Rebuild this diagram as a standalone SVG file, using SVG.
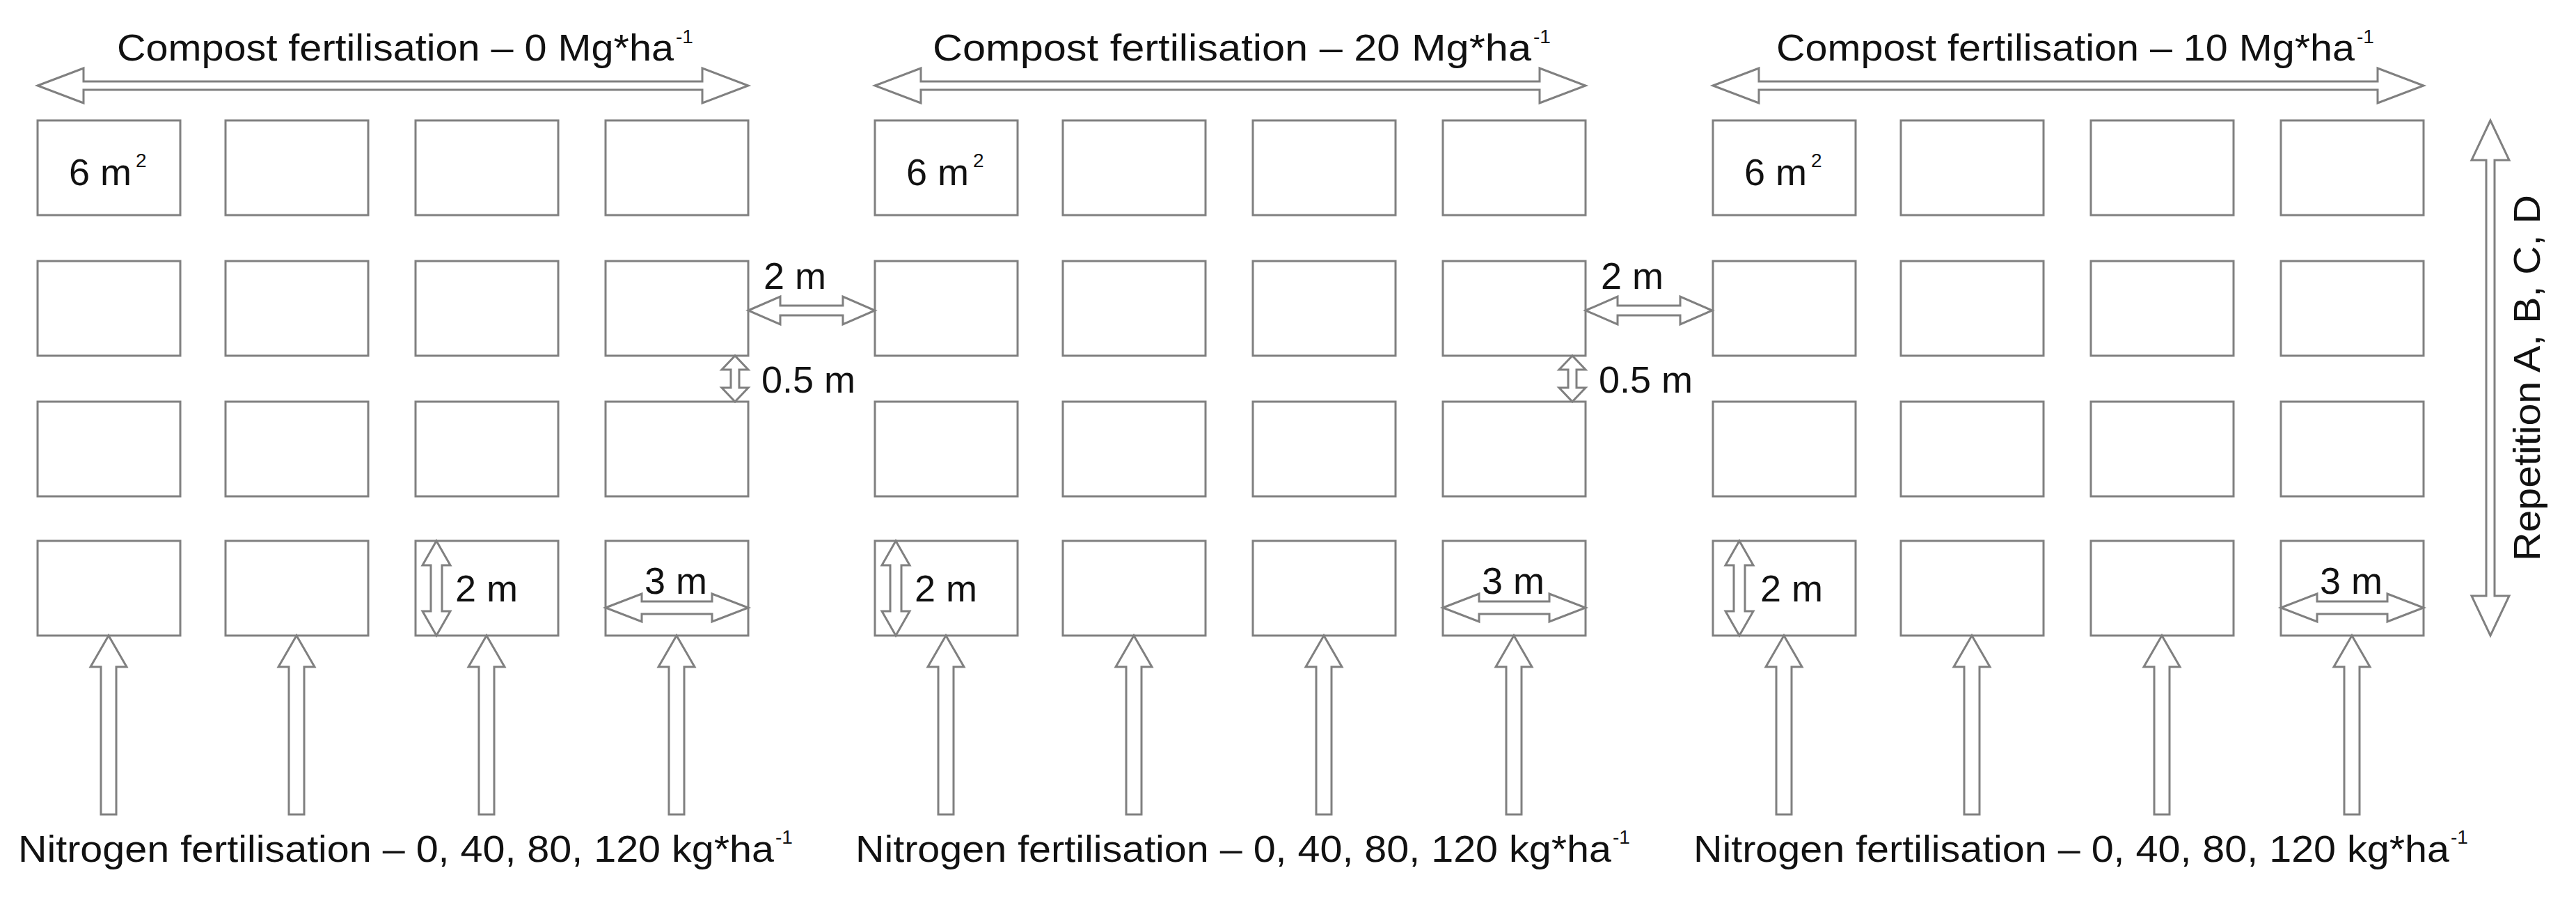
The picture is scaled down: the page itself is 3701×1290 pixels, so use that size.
<svg xmlns="http://www.w3.org/2000/svg" xmlns:xlink="http://www.w3.org/1999/xlink" width="3701" height="1290" viewBox="0 0 3701 1290">
<style>
.s{fill:#fff;stroke:#808080;stroke-width:3}
.t{font-family:"Liberation Sans",Arial,sans-serif;font-size:54px;fill:#111}
.sup{font-family:"Liberation Sans",Arial,sans-serif;font-size:28px;fill:#111}
</style>
<defs>
<rect id="box" class="s" width="205" height="136"/>
<polygon id="gap" class="s" points="0,0 46,-20 46,-7 136,-7 136,-20 182,0 136,20 136,7 46,7 46,20"/>
<polygon id="half" class="s" points="0,0 -19,20 -6,20 -6,46 -19,46 0,66 19,46 6,46 6,20 19,20"/>
<polygon id="w3" class="s" points="0,0 52,-20 52,-9 153,-9 153,-20 205,0 153,20 153,9 52,9 52,20"/>
<polygon id="h2" class="s" points="0,0 -20,35 -8,35 -8,101 -20,101 0,136 20,101 8,101 8,35 20,35"/>
<polygon id="comp" class="s" points="0,0 66,-25 66,-6 955,-6 955,-25 1021,0 955,25 955,6 66,6 66,25"/>
<polygon id="narr" class="s" points="0,0 26,45 11,45 11,257 -11,257 -11,45 -26,45"/>
</defs>
<g id="plots">
<g id="block1">
<use xlink:href="#box" x="54" y="173"/><use xlink:href="#box" x="324" y="173"/><use xlink:href="#box" x="597" y="173"/><use xlink:href="#box" x="870" y="173"/>
<use xlink:href="#box" x="54" y="375"/><use xlink:href="#box" x="324" y="375"/><use xlink:href="#box" x="597" y="375"/><use xlink:href="#box" x="870" y="375"/>
<use xlink:href="#box" x="54" y="577"/><use xlink:href="#box" x="324" y="577"/><use xlink:href="#box" x="597" y="577"/><use xlink:href="#box" x="870" y="577"/>
<use xlink:href="#box" x="54" y="777"/><use xlink:href="#box" x="324" y="777"/><use xlink:href="#box" x="597" y="777"/><use xlink:href="#box" x="870" y="777"/>
<text class="t" x="99" y="266">6 m</text><text class="sup" x="195" y="240">2</text>
</g>
<g id="block2">
<use xlink:href="#box" x="1257" y="173"/><use xlink:href="#box" x="1527" y="173"/><use xlink:href="#box" x="1800" y="173"/><use xlink:href="#box" x="2073" y="173"/>
<use xlink:href="#box" x="1257" y="375"/><use xlink:href="#box" x="1527" y="375"/><use xlink:href="#box" x="1800" y="375"/><use xlink:href="#box" x="2073" y="375"/>
<use xlink:href="#box" x="1257" y="577"/><use xlink:href="#box" x="1527" y="577"/><use xlink:href="#box" x="1800" y="577"/><use xlink:href="#box" x="2073" y="577"/>
<use xlink:href="#box" x="1257" y="777"/><use xlink:href="#box" x="1527" y="777"/><use xlink:href="#box" x="1800" y="777"/><use xlink:href="#box" x="2073" y="777"/>
<text class="t" x="1302" y="266">6 m</text><text class="sup" x="1398" y="240">2</text>
</g>
<g id="block3">
<use xlink:href="#box" x="2461" y="173"/><use xlink:href="#box" x="2731" y="173"/><use xlink:href="#box" x="3004" y="173"/><use xlink:href="#box" x="3277" y="173"/>
<use xlink:href="#box" x="2461" y="375"/><use xlink:href="#box" x="2731" y="375"/><use xlink:href="#box" x="3004" y="375"/><use xlink:href="#box" x="3277" y="375"/>
<use xlink:href="#box" x="2461" y="577"/><use xlink:href="#box" x="2731" y="577"/><use xlink:href="#box" x="3004" y="577"/><use xlink:href="#box" x="3277" y="577"/>
<use xlink:href="#box" x="2461" y="777"/><use xlink:href="#box" x="2731" y="777"/><use xlink:href="#box" x="3004" y="777"/><use xlink:href="#box" x="3277" y="777"/>
<text class="t" x="2506" y="266">6 m</text><text class="sup" x="2602" y="240">2</text>
</g>
</g>
<g id="connectors">
<use xlink:href="#comp" x="54" y="123"/><use xlink:href="#comp" x="1257" y="123"/><use xlink:href="#comp" x="2461" y="123"/>
<use xlink:href="#gap" x="1075" y="446"/><use xlink:href="#gap" x="2278" y="446"/>
<use xlink:href="#half" x="1056" y="511"/><use xlink:href="#half" x="2259" y="511"/>
<use xlink:href="#w3" x="870" y="873"/><use xlink:href="#w3" x="2073" y="873"/><use xlink:href="#w3" x="3277" y="873"/>
<use xlink:href="#h2" x="627" y="777"/><use xlink:href="#h2" x="1287" y="777"/><use xlink:href="#h2" x="2499" y="777"/>
<use xlink:href="#narr" x="156" y="913"/><use xlink:href="#narr" x="426" y="913"/><use xlink:href="#narr" x="699" y="913"/><use xlink:href="#narr" x="972" y="913"/>
<use xlink:href="#narr" x="1359" y="913"/><use xlink:href="#narr" x="1629" y="913"/><use xlink:href="#narr" x="1902" y="913"/><use xlink:href="#narr" x="2175" y="913"/>
<use xlink:href="#narr" x="2563" y="913"/><use xlink:href="#narr" x="2833" y="913"/><use xlink:href="#narr" x="3106" y="913"/><use xlink:href="#narr" x="3379" y="913"/>
<polygon class="s" points="3578,173 3551,230 3572,230 3572,856 3551,856 3578,913 3605,856 3584,856 3584,230 3605,230"/>
</g>
<g id="labels">
<text class="t" x="168" y="87" textLength="800" lengthAdjust="spacingAndGlyphs">Compost fertilisation – 0 Mg*ha</text><text class="sup" x="971" y="62">-1</text>
<text class="t" x="1340" y="87" textLength="860" lengthAdjust="spacingAndGlyphs">Compost fertilisation – 20 Mg*ha</text><text class="sup" x="2203" y="62">-1</text>
<text class="t" x="2552" y="87" textLength="831" lengthAdjust="spacingAndGlyphs">Compost fertilisation – 10 Mg*ha</text><text class="sup" x="3386" y="62">-1</text>
<text class="t" x="26" y="1238" textLength="1086" lengthAdjust="spacingAndGlyphs">Nitrogen fertilisation – 0, 40, 80, 120 kg*ha</text><text class="sup" x="1114" y="1212">-1</text>
<text class="t" x="1229" y="1238" textLength="1086" lengthAdjust="spacingAndGlyphs">Nitrogen fertilisation – 0, 40, 80, 120 kg*ha</text><text class="sup" x="2317" y="1212">-1</text>
<text class="t" x="2433" y="1238" textLength="1086" lengthAdjust="spacingAndGlyphs">Nitrogen fertilisation – 0, 40, 80, 120 kg*ha</text><text class="sup" x="3521" y="1212">-1</text>
<text class="t" x="1097" y="415">2 m</text><text class="t" x="2300" y="415">2 m</text>
<text class="t" x="1094" y="564">0.5 m</text><text class="t" x="2297" y="564">0.5 m</text>
<text class="t" x="926" y="853">3 m</text><text class="t" x="2129" y="853">3 m</text><text class="t" x="3333" y="853">3 m</text>
<text class="t" x="654" y="864">2 m</text><text class="t" x="1314" y="864">2 m</text><text class="t" x="2529" y="864">2 m</text>
<text class="t" text-anchor="middle" transform="translate(3649,543) rotate(-90)" textLength="526" lengthAdjust="spacingAndGlyphs">Repetition A, B, C, D</text>
</g>
</svg>
